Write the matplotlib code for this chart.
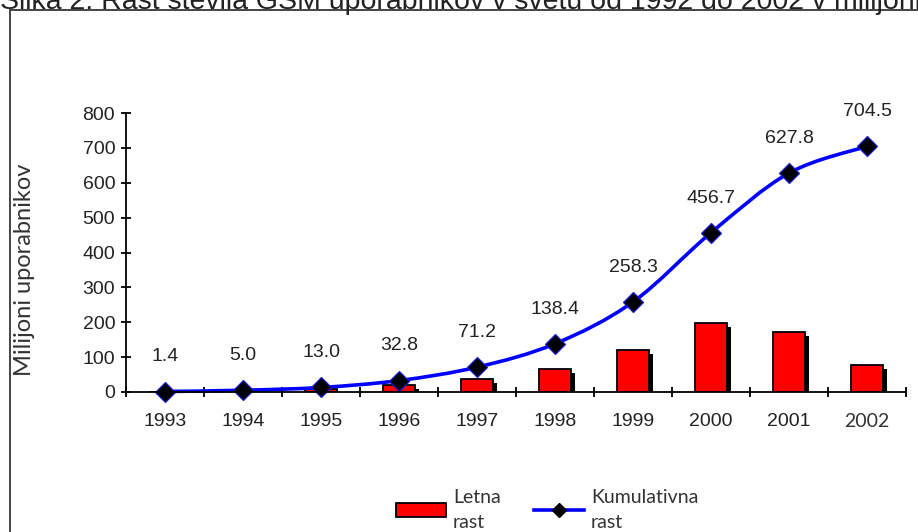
import numpy as np
from matplotlib import pyplot as plt
from matplotlib import patheffects as pe
from matplotlib.patches import Rectangle, PathPatch
from matplotlib.lines import Line2D
from matplotlib.path import Path

# podatki (milijoni uporabnikov)
leta = ["1993", "1994", "1995", "1996", "1997", "1998", "1999", "2000", "2001", "2002"]
letna_rast = [1.4, 3.6, 8.0, 19.8, 38.4, 67.2, 119.9, 198.4, 171.1, 76.7]
kumulativa = [1.4, 5.0, 13.0, 32.8, 71.2, 138.4, 258.3, 456.7, 627.8, 704.5]
y_ticks = [0, 100, 200, 300, 400, 500, 600, 700, 800]

naslov = "Slika 2: Rast števila GSM uporabnikov v svetu od 1992 do 2002 v milijonih"

W, H = 918, 532
fig = plt.figure(figsize=(W / 100, H / 100), dpi=100)
ax = fig.add_axes([126 / W, 1 - 392 / H, (906 - 126) / W, (392 - 113) / H])

x = np.arange(len(leta))

# stolpci z crno senco
ax.bar(x, letna_rast, width=0.41, color="#ff0000", edgecolor="black", linewidth=1.3,
       zorder=2, path_effects=[pe.SimplePatchShadow(offset=(3, -3), shadow_rgbFace="black", alpha=1.0),
                               pe.Normal()])

# zglajena krivulja (catmull-rom -> bezier)
pts = np.column_stack([x, kumulativa]).astype(float)
ext = np.vstack([pts[0], pts, pts[-1]])
verts = [tuple(pts[0])]
codes = [Path.MOVETO]
for i in range(len(pts) - 1):
    p0, p1, p2, p3 = ext[i], ext[i + 1], ext[i + 2], ext[i + 3]
    c1 = p1 + (p2 - p0) / 6.0
    c2 = p2 - (p3 - p1) / 6.0
    verts += [tuple(c1), tuple(c2), tuple(p2)]
    codes += [Path.CURVE4] * 3
ax.add_patch(PathPatch(Path(verts, codes), facecolor="none", edgecolor="#0000ff",
                       linewidth=2.6, zorder=3, clip_on=False))
ax.plot(x, kumulativa, linestyle="none", marker="D", markersize=10, markerfacecolor="black",
        markeredgecolor="#1a1ad0", markeredgewidth=0.9, zorder=4, clip_on=False)

for xi, v in zip(x, kumulativa):
    ax.annotate(f"{v:.1f}", (xi, v), xytext=(0, 25), textcoords="offset points",
                ha="center", va="center", fontsize=14, family="Liberation Sans", color="#222222")

ax.set_xlim(-0.5, len(leta) - 0.5)
ax.set_ylim(0, 800)
ax.set_yticks(y_ticks)
ax.set_xticks(x)
ax.set_xticklabels(leta)
ax.set_xticks(np.arange(len(leta) + 1) - 0.5, minor=True)
ax.tick_params(axis="x", which="major", length=0, pad=15, labelsize=14, labelcolor="#222222")
ax.tick_params(axis="x", which="minor", direction="inout", length=7, width=1.3)
ax.tick_params(axis="y", direction="inout", length=7.5, width=1.3, pad=4, labelsize=14,
               labelcolor="#222222")
for t in ax.get_xticklabels() + ax.get_yticklabels():
    t.set_family("Liberation Sans")
ax.get_xticklabels()[-1].set_family("Lato")
ax.get_xticklabels()[-1].set_color("#333333")

for s in ["top", "right"]:
    ax.spines[s].set_visible(False)
for s in ["left", "bottom"]:
    ax.spines[s].set_linewidth(1.3)
    ax.spines[s].set_zorder(5)

fig.text(25 / W, 1 - 270 / H, "Milijoni uporabnikov", rotation=90, ha="center", va="center",
         fontsize=17, family="Lato", color="#333333")

# okvir in odrezan naslov
fig.patches.append(Rectangle((10 / W, -0.2), 1.2, 1.2 - 10 / H, transform=fig.transFigure,
                             facecolor="none", edgecolor="#444444", linewidth=1.4))
fig.text(0 / W, 1 - 9 / H, naslov, ha="left", va="baseline", fontsize=20.5,
         family="Liberation Sans", color="#222222")

handles = [Rectangle((0, 0), 1, 1, facecolor="#ff0000", edgecolor="black", linewidth=1.3),
           Line2D([], [], color="#0000ff", linewidth=2.6, marker="D", markersize=7,
                  markerfacecolor="black", markeredgecolor="black")]
leg = fig.legend(handles, ["Letna\nrast", "Kumulativna\nrast"], loc="center", ncol=2,
                 bbox_to_anchor=(547 / W, 1 - 510 / H), frameon=False, borderpad=0,
                 handlelength=2.6, handletextpad=0.35, columnspacing=1.7, numpoints=1,
                 prop={"family": "Lato", "size": 14})
for t in leg.get_texts():
    t.set_linespacing(1.6)
    t.set_color("#333333")

fig.savefig("out.png", dpi=100)
